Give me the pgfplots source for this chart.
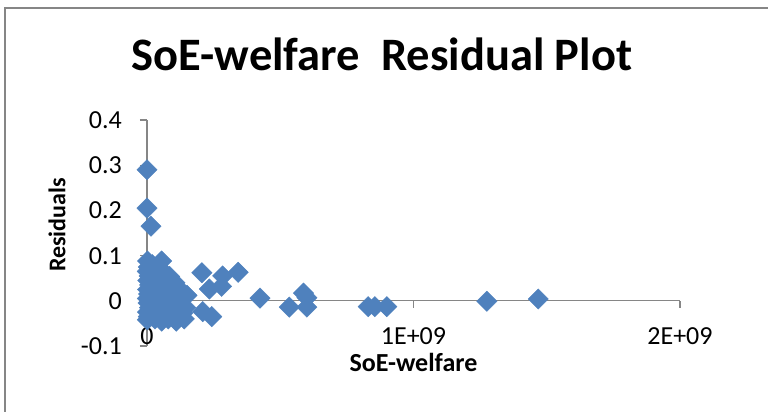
\documentclass[border=0pt]{standalone}
\usepackage{fontspec}
\setmainfont{Carlito}
\usepackage{pgfplots}
\pgfplotsset{compat=1.18}
\definecolor{xlblue}{HTML}{4F81BD}
\definecolor{axgray}{HTML}{868686}

\begin{document}
\begin{tikzpicture}
\begin{axis}[
    scale only axis,
    width=533pt, height=226pt,
    xmin=0, xmax=2e9,
    ymin=-0.1, ymax=0.4,
    axis y line=left,
    axis x line=middle,
    axis line style={-, draw=axgray, line width=1.3pt},
    tick style={draw=axgray, line width=1.3pt},
    major tick length=7pt,
    tick align=outside,
    hide obscured x ticks=false,
    hide obscured y ticks=false,
    xtick={0,1e9,2e9},
    xticklabels={0,1E+09,2E+09},
    scaled x ticks=false,
    ytick={-0.1,0,0.1,0.2,0.3,0.4},
    yticklabels={-0.1,0,0.1,0.2,0.3,0.4},
    ticklabel style={font=\fontsize{26}{30}\selectfont},
    xticklabel style={anchor=base, yshift=-37pt},
    yticklabel style={anchor=base east, inner sep=0pt, xshift=-18pt, yshift=-8.5pt},
    title={SoE-welfare~~Residual Plot},
    title style={font=\fontsize{46.5}{52}\selectfont\bfseries, at={(rel axis cs:0.441,1)}, anchor=base, yshift=43pt},
    xlabel={SoE-welfare},
    xlabel style={font=\fontsize{26}{30}\selectfont\bfseries, at={(rel axis cs:0.5,0)}, anchor=base, yshift=-26pt},
    ylabel={Residuals},
    ylabel style={font=\fontsize{24}{28}\selectfont\bfseries, at={(rel axis cs:0,0.535)}, anchor=center, yshift=90pt},
    clip=false,
]
\addplot[only marks, mark=square*, mark size=7.2pt,
    mark options={rotate=45, fill=xlblue, draw=xlblue}]
  table {
x y
0 0.29
0 0.205
1.5e7 0.165
2e6 0.088
5e6 0.075
1e6 0.065
8e6 0.055
3e6 0.045
1e7 0.035
2e6 0.025
6e6 0.015
1e6 0.005
4e6 -0.005
9e6 -0.015
2e6 -0.025
5e6 -0.035
1e6 -0.042
2e7 0.080
2.5e7 0.060
3e7 0.040
2e7 0.020
2.8e7 0.000
2.2e7 -0.020
3e7 -0.040
3.5e7 0.070
4.5e7 0.050
5e7 0.030
4e7 0.010
5e7 -0.010
4.5e7 -0.030
5.5e7 -0.045
5.5e7 0.088
6e7 0.065
7e7 0.040
6.5e7 0.020
7.5e7 0.000
7e7 -0.020
8e7 -0.040
8.5e7 0.054
9e7 0.030
1.0e8 0.010
9.5e7 -0.010
1.0e8 -0.030
1.1e8 -0.045
1.05e8 0.040
1.2e8 0.025
1.25e8 -0.005
1.3e8 -0.025
1.4e8 -0.040
1.35e8 0.018
1.45e8 -0.015
1.5e8 0.012
1.35e8 -0.027
2.06e8 0.062
2.84e8 0.055
3.42e8 0.063
2.34e8 0.026
2.80e8 0.032
4.24e8 0.006
5.34e8 -0.014
5.87e8 0.017
6.00e8 0.007
6.00e8 -0.014
2.09e8 -0.024
2.43e8 -0.035
8.30e8 -0.013
8.55e8 -0.013
9.00e8 -0.013
1.275e9 -0.001
1.468e9 0.004
};
\end{axis}
% chart area border: only its top and left edges fall inside the picture
\draw[axgray, line width=1.5pt] (-142pt,-66pt) -- (-142pt,338pt) -- (621pt,338pt);
\pgfresetboundingbox
\path[use as bounding box] (-147pt,-66pt) rectangle (621pt,346pt);
\end{tikzpicture}
\end{document}
